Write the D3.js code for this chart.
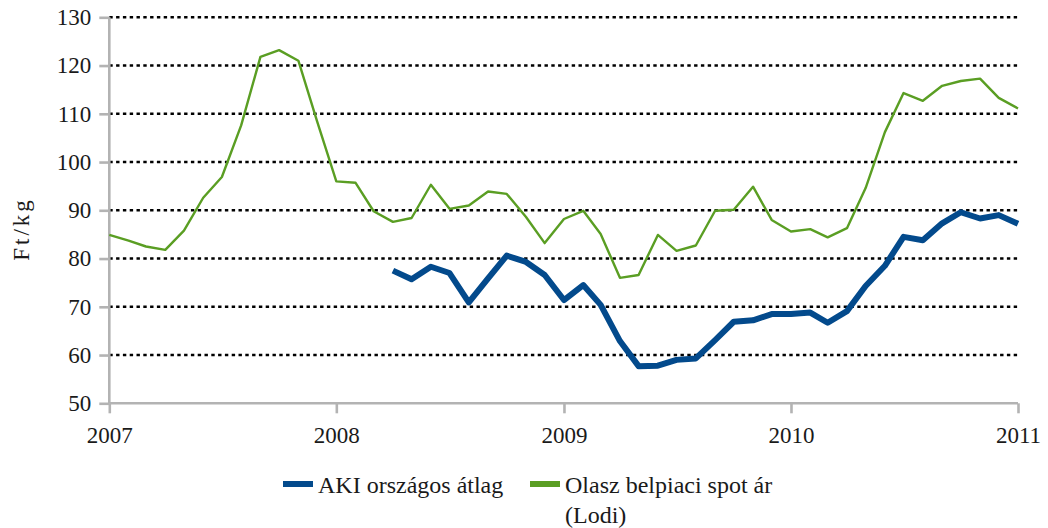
<!DOCTYPE html>
<html>
<head>
<meta charset="utf-8">
<script src="https://cdn.jsdelivr.net/npm/d3@7"></script>
<style>
  body { margin: 0; background: #fff; }
  svg text { font-family: "Liberation Serif", "DejaVu Serif", serif; fill: #1a1a1a; }
</style>
</head>
<body>
<svg id="chart"></svg>
<script>
// hónapok (minden hónap első napja)
var months = [
  "2007-01","2007-02","2007-03","2007-04","2007-05","2007-06","2007-07","2007-08","2007-09","2007-10","2007-11","2007-12",
  "2008-01","2008-02","2008-03","2008-04","2008-05","2008-06","2008-07","2008-08","2008-09","2008-10","2008-11","2008-12",
  "2009-01","2009-02","2009-03","2009-04","2009-05","2009-06","2009-07","2009-08","2009-09","2009-10","2009-11","2009-12",
  "2010-01","2010-02","2010-03","2010-04","2010-05","2010-06","2010-07","2010-08","2010-09","2010-10","2010-11","2010-12",
  "2011-01"
];

// AKI országos átlag (2008 ápr.-tól)
var akiAtlag = [
  null, null, null, null, null, null, null, null, null, null, null, null,
  null, null, null, 77.5, 75.7, 78.3, 77.0, 70.9, 75.9, 80.6, 79.3, 76.6,
  71.4, 74.5, 70.4, 62.9, 57.7, 57.8, 59.0, 59.3, 63.1, 66.9, 67.2, 68.5,
  68.5, 68.8, 66.7, 69.1, 74.3, 78.5, 84.5, 83.8, 87.3, 89.6, 88.3, 89.0,
  87.2
];

// Olasz belpiaci spot ár (Lodi)
var olaszLodi = [
  84.9, 83.7, 82.5, 81.8, 85.8, 92.6, 96.9, 107.6, 121.8, 123.2, 121.0, 108.5,
  96.0, 95.7, 89.8, 87.6, 88.4, 95.3, 90.3, 91.0, 93.9, 93.4, 88.6, 83.2,
  88.2, 89.9, 85.1, 76.0, 76.6, 84.9, 81.6, 82.7, 89.9, 90.1, 94.9, 88.0,
  85.6, 86.1, 84.4, 86.3, 94.6, 106.2, 114.3, 112.7, 115.8, 116.8, 117.3, 113.3,
  111.1
];

var yTicks = [50, 60, 70, 80, 90, 100, 110, 120, 130];
var xTicks = ["2007", "2008", "2009", "2010", "2011"];

var seriesNames = ["AKI országos átlag", "Olasz belpiaci spot ár"];
var seriesNames2 = ["", "(Lodi)"];

var fontFamily = "'Liberation Serif', 'DejaVu Serif', serif";

// méretek
var size = { width: 1048, height: 528 };
var margin = { top: 17.3, right: 30, bottom: 124.7, left: 109.3 };
var width = size.width - margin.left - margin.right;
var height = size.height - margin.top - margin.bottom;

var parseMonth = d3.timeParse("%Y-%m");
var parseYear = d3.timeParse("%Y");

var x = d3.scaleTime()
  .domain([parseYear("2007"), parseYear("2011")])
  .range([0, width]);

var y = d3.scaleLinear()
  .domain([50, 130])
  .range([height, 0]);

var svg = d3.select("#chart")
  .attr("width", size.width)
  .attr("height", size.height)
  .append("g")
  .attr("transform", "translate(" + margin.left + "," + margin.top + ")");

// rácsvonalak
svg.append("g")
  .selectAll("line")
  .data(yTicks.filter(function(d){ return d > 50; }))
  .enter()
  .append("line")
  .attr("x1", 0)
  .attr("x2", width)
  .attr("y1", function(d){ return y(d); })
  .attr("y2", function(d){ return y(d); })
  .attr("stroke", "#000")
  .attr("stroke-width", 2.6)
  .attr("stroke-dasharray", "3.4,3.4");

// tengelyek
var yAxis = d3.axisLeft(y)
  .tickValues(yTicks)
  .tickSize(10)
  .tickPadding(8);

var xAxis = d3.axisBottom(x)
  .tickValues(xTicks.map(parseYear))
  .tickFormat(d3.timeFormat("%Y"))
  .tickSize(10)
  .tickPadding(9);

var gy = svg.append("g").call(yAxis);
var gx = svg.append("g").attr("transform", "translate(0," + height + ")").call(xAxis);

[gy, gx].forEach(function(g){
  g.attr("font-family", null).attr("font-size", null);
  g.select(".domain").attr("stroke", "#b3b3b3").attr("stroke-width", 2.6);
  g.selectAll(".tick line").attr("stroke", "#b3b3b3").attr("stroke-width", 2.6);
  g.selectAll(".tick text")
    .attr("fill", "#1a1a1a")
    .style("font-family", fontFamily)
    .style("font-size", "23px");
});
gy.select(".domain").attr("d", "M0," + height + "V0");
gx.select(".domain").attr("d", "M0,0H" + width);
gx.selectAll(".tick text").attr("dy", "0.9em");

// tengelycím
svg.append("text")
  .attr("transform", "translate(" + (21 - margin.left) + "," + (229 - margin.top) + ") rotate(-90)")
  .attr("text-anchor", "middle")
  .attr("dy", "0.35em")
  .style("font-family", fontFamily)
  .style("font-size", "23px")
  .style("letter-spacing", "3px")
  .text("Ft/kg");

// vonalak
var line = d3.line()
  .defined(function(d){ return d.v != null; })
  .x(function(d){ return x(d.date); })
  .y(function(d){ return y(d.v); });

var colors = ["#034a8c", "#5a9e23"];
var widths = [6, 2.4];
var seriesData = [akiAtlag, olaszLodi];

// zöld alul, kék felül
[1, 0].forEach(function(i){
  var data = months.map(function(m, j){
    return { date: parseMonth(m), v: seriesData[i][j] };
  });
  svg.append("path")
    .datum(data)
    .attr("d", line)
    .attr("fill", "none")
    .attr("stroke", colors[i])
    .attr("stroke-width", widths[i])
    .attr("stroke-linejoin", "round");
});

// jelmagyarázat
var legend = d3.select("#chart").append("g");
var legendX = [283, 530];
seriesNames.forEach(function(name, i){
  legend.append("line")
    .attr("x1", legendX[i])
    .attr("x2", legendX[i] + 30)
    .attr("y1", 484)
    .attr("y2", 484)
    .attr("stroke", colors[i])
    .attr("stroke-width", 6);
  legend.append("text")
    .attr("x", legendX[i] + 35)
    .attr("y", 493)
    .style("font-family", fontFamily)
    .style("font-size", "24px")
    .text(name);
  if (seriesNames2[i]) {
    legend.append("text")
      .attr("x", legendX[i] + 35)
      .attr("y", 523)
      .style("font-family", fontFamily)
      .style("font-size", "24px")
      .text(seriesNames2[i]);
  }
});
</script>
</body>
</html>
